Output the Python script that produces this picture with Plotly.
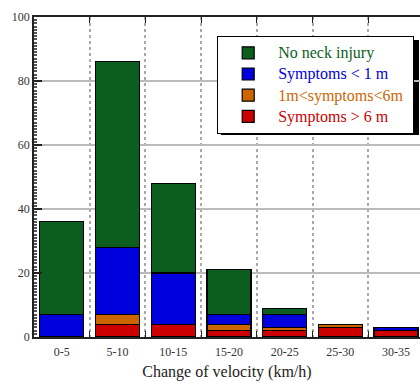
import plotly.graph_objects as go

categories = ["0-5", "5-10", "10-15", "15-20", "20-25", "25-30", "30-35"]
sym_gt6 = [0, 4, 4, 2, 2, 3, 2]
sym_1to6 = [0, 3, 0, 2, 1, 1, 0]
sym_lt1 = [7, 21, 16, 3, 4, 0, 1]
no_injury = [29, 58, 28, 14, 2, 0, 0]

series = [
    ("Symptoms &gt; 6 m", sym_gt6, "#CC0000"),
    ("1m&lt;symptoms&lt;6m", sym_1to6, "#CC6600"),
    ("Symptoms &lt; 1 m", sym_lt1, "#0000DD"),
    ("No neck injury", no_injury, "#0B5E1E"),
]

SERIF = "Liberation Serif, Times New Roman, DejaVu Serif, serif"

fig = go.Figure()
for name, vals, col in series:
    fig.add_trace(go.Bar(
        x=categories, y=[v if v else None for v in vals],
        name=f"<span style='color:{col};font-size:16px'>{name}&nbsp;</span>",
        marker=dict(color=col, line=dict(color="black", width=1.2)),
    ))

W, H = 420, 381
ml, mr, mt, mb = 34, 0, 17, 44
pw, ph = W - ml - mr, H - mt - mb

def px2x(p):
    return (p - ml) / pw

def px2y(p):
    return (H - mb - p) / ph

fig.update_layout(
    width=W, height=H,
    margin=dict(l=ml, r=mr, t=mt, b=mb, pad=0),
    barmode="stack", bargap=0.21,
    plot_bgcolor="white", paper_bgcolor="white",
    font=dict(family=SERIF, size=12, color="#333"),
    showlegend=True,
    legend=dict(
        x=px2x(217), y=px2y(36), xanchor="left", yanchor="top",
        bgcolor="white", bordercolor="black", borderwidth=1.2,
        traceorder="reversed", font=dict(family=SERIF, size=14),
        itemwidth=50,
    ),
    shapes=[dict(
        type="rect", xref="paper", yref="paper",
        x0=px2x(221), x1=px2x(419), y0=px2y(135), y1=px2y(40),
        fillcolor="black", line=dict(width=0), layer="below",
    )],
    xaxis=dict(
        type="category", range=[-0.5, (420 - 34) / 55.7 - 0.5],
        tickson="boundaries", ticks="inside", ticklen=6, tickcolor="#222",
        showgrid=True, gridcolor="#aaa", griddash="dot", gridwidth=1.5,
        showline=True, linecolor="#222", linewidth=1.5, mirror="ticks",
        tickfont=dict(family=SERIF, size=12, color="#333"),
        ticklabelstandoff=3,
        title=dict(text="Change of velocity (km/h)", font=dict(family=SERIF, size=16, color="#222"), standoff=12),
    ),
    yaxis=dict(
        range=[0, 100], tickvals=[0, 20, 40, 60, 80, 100],
        ticks="inside", ticklen=8, tickcolor="#222", tickwidth=1.5,
        showgrid=True, gridcolor="#bbb", gridwidth=2,
        zeroline=False,
        showline=True, linecolor="#222", linewidth=1.5,
        minor=dict(dtick=1, ticks="inside", ticklen=3, tickcolor="#555", showgrid=False),
        tickfont=dict(family=SERIF, size=12, color="#333"),
    ),
)

fig.write_html("out.html", config={"displayModeBar": False},
               post_script="document.body.style.margin='0';")
